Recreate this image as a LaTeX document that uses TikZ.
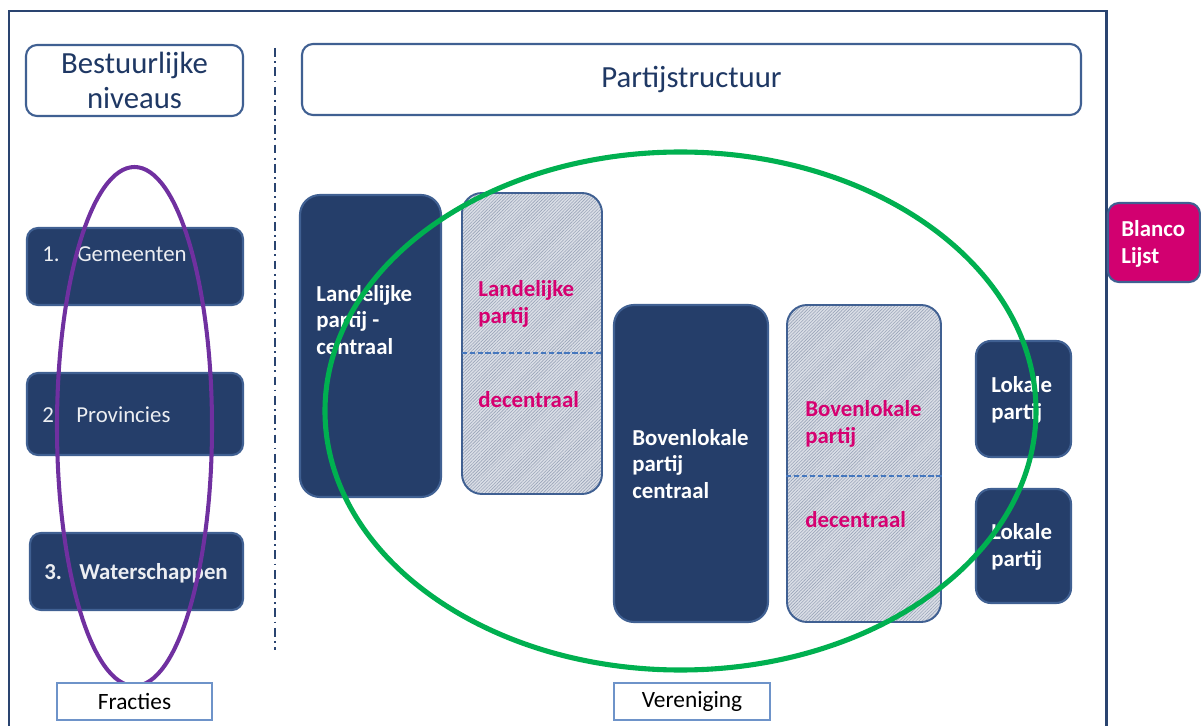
\documentclass[tikz,border=0pt]{standalone}
\usepackage{fontspec}
\setmainfont{Carlito}
\usetikzlibrary{patterns.meta,fit}
\definecolor{navy}{RGB}{37,62,106}
\definecolor{navyedge}{RGB}{64,96,146}
\definecolor{frameblue}{RGB}{42,68,112}
\definecolor{magtext}{RGB}{214,0,112}
\definecolor{blanco}{RGB}{210,0,112}
\definecolor{hatchbg}{RGB}{218,222,230}
\definecolor{hatchline}{RGB}{155,165,185}
\definecolor{greenring}{RGB}{0,176,80}
\definecolor{purplering}{RGB}{112,48,160}
\definecolor{labeledge}{RGB}{110,147,201}
\definecolor{titletext}{RGB}{31,56,100}
\definecolor{divline}{RGB}{70,120,190}
\definecolor{lighttext}{RGB}{236,238,242}
\begin{document}
\begin{tikzpicture}[x=0.02cm,y=-0.02cm,
  titlebox/.style={draw=navyedge, line width=1.2pt, fill=white, rounded corners=0.22cm, inner sep=0pt},
  levelbox/.style={draw=navyedge, line width=1.2pt, fill=navy, rounded corners=0.22cm, inner sep=0pt},
  partybox/.style={draw=navyedge, line width=1.2pt, fill=navy, rounded corners=0.4cm, inner sep=0pt},
  hatchbox/.style={draw=navyedge, line width=1.1pt, rounded corners=0.4cm, inner sep=0pt,
     preaction={fill=hatchbg}, pattern={Lines[angle=45,distance=1.3pt,line width=0.35pt]}, pattern color=hatchline},
  blancobox/.style={draw=navyedge, line width=1.2pt, fill=blanco, rounded corners=0.22cm, inner sep=0pt},
  labelbox/.style={draw=labeledge, line width=0.8pt, fill=white, inner sep=0pt},
  titletxt/.style={text=titletext, font=\fontsize{17.5}{19.5}\selectfont, align=center, inner sep=0pt},
  leveltxt/.style={text=lighttext, font=\fontsize{13}{15}\selectfont, anchor=west, inner sep=0pt},
  whitetxt/.style={text=white, font=\fontsize{13}{15.3}\selectfont\bfseries, align=left, anchor=west, inner sep=0pt},
  magtxt/.style={text=magtext, font=\fontsize{13}{15.3}\selectfont\bfseries, align=left, anchor=west, inner sep=0pt},
  divider/.style={divline, line width=1pt, dash pattern=on 3pt off 1.5pt},
  labeltxt/.style={text=black, font=\fontsize{13.3}{15}\selectfont, inner sep=0pt}
]
\clip (0,0) rectangle (1201,726);
\fill[white] (0,0) rectangle (1201,726);

% outer frame
\draw[frameblue, line width=1.7pt] (9,11) rectangle (1106,760);

% dash-dot separator
\coordinate (sepTop) at (275,48);
\coordinate (sepBot) at (275,650);
\draw[frameblue, line width=1.4pt, dash pattern=on 5pt off 2.5pt on 1pt off 2.5pt] (sepTop) -- (sepBot);

% titles
\node[titlebox, fit={(26,45) (243,116)}] (bestuur) {};
\node[titletxt] (bestuurtxt) at (bestuur.center) {Bestuurlijke\\niveaus};
\node[titlebox, fit={(302,44) (1081,115)}] (partij) {};
\node[titletxt] (partijtxt) at (partij.center) {Partijstructuur};

% levels
\node[levelbox, fit={(27,228) (243,305)}] (gem) {};
\node[leveltxt] (gemtxt) at (42,254) {\hbox to 0.7cm{1.\hfil}Gemeenten};
\node[levelbox, fit={(27,373) (243,455)}] (prov) {};
\node[leveltxt] (provtxt) at (42,415) {\hbox to 0.68cm{2.\hfil}Provincies};
\node[levelbox, fit={(30,533) (243,610)}] (water) {};
\node[leveltxt, font=\fontsize{13}{15}\selectfont\bfseries] (watertxt) at (44,573) {\hbox to 0.7cm{3.\hfil}Waterschappen};

% party boxes
\node[partybox, fit={(300,195) (441,497)}] (landc) {};
\node[whitetxt] (landctxt) at (316,320) {Landelijke\\partij -\\centraal};

\node[hatchbox, fit={(462,193) (602,494)}] (landd) {};
\draw[divider] (landd.west |- 0,353) -- (landd.east |- 0,353);
\node[magtxt] (landdtxt) at (478,304) {Landelijke\\partij};
\node[magtxt] (landdtxt2) at (478,400) {decentraal};

\node[partybox, fit={(614,305) (768,622)}] (bovc) {};
\node[whitetxt] (bovctxt) at (632,464) {Bovenlokale\\partij\\centraal};

\node[hatchbox, fit={(787,305) (941,622)}] (bovd) {};
\draw[divider] (bovd.west |- 0,476) -- (bovd.east |- 0,476);
\node[magtxt] (bovdtxt) at (805,424) {Bovenlokale\\partij};
\node[magtxt] (bovdtxt2) at (805,520) {decentraal};

\node[partybox, rounded corners=0.3cm, fit={(976,341) (1071,457)}] (lok1) {};
\node[whitetxt] (lok1txt) at (991,400) {Lokale\\partij};
\node[partybox, rounded corners=0.3cm, fit={(976,489) (1071,603)}] (lok2) {};
\node[whitetxt] (lok2txt) at (991,547) {Lokale\\partij};

% blanco lijst
\node[blancobox, fit={(1108,203) (1200,282)}] (blanco) {};
\node[whitetxt] (blancotxt) at (1121,244) {Blanco\\Lijst};

% ellipses
\draw[purplering, line width=2.3pt] (134.5,426.5) ellipse [x radius=77.5, y radius=259.5];
\draw[greenring, line width=2.9pt] (680.5,411) ellipse [x radius=355.5, y radius=259];

% bottom labels
\node[labelbox, fit={(57,683) (212,720)}] (fracties) {};
\node[labeltxt] (fractiestxt) at (fracties.center) {Fracties};
\node[labelbox, fit={(614,683) (770,720)}] (vereniging) {};
\node[labeltxt] (vereniginstxt) at (vereniging.center) {Vereniging};
\end{tikzpicture}
\end{document}
